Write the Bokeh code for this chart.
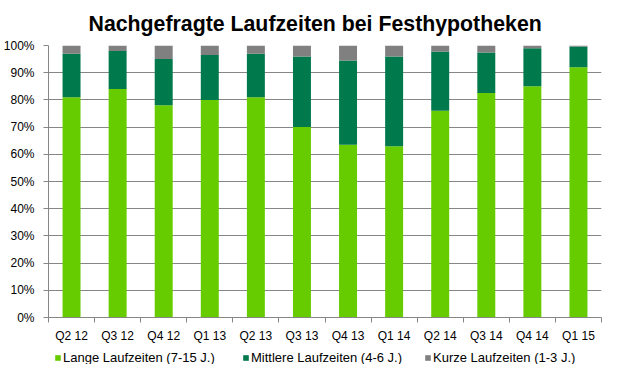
from bokeh.plotting import figure
from bokeh.layouts import column
from bokeh.models import ColumnDataSource, FixedTicker, PrintfTickFormatter, Range1d, Legend, LegendItem, Title
from bokeh.embed import file_html
from bokeh.resources import INLINE

categories = ["Q2 12", "Q3 12", "Q4 12", "Q1 13", "Q2 13", "Q3 13",
              "Q4 13", "Q1 14", "Q2 14", "Q3 14", "Q4 14", "Q1 15"]
lange = [81, 84, 78, 80, 81, 70, 63.5, 63, 76, 82.5, 85, 92]
mittlere = [16, 14, 17, 16.5, 16, 26, 31, 33, 21.8, 14.9, 14, 7.6]
kurze = [3, 2, 5, 3.5, 3, 4, 5.5, 4, 2.2, 2.6, 1, 0.4]
series_names = ["Lange Laufzeiten (7-15 J.)", "Mittlere Laufzeiten (4-6 J.)", "Kurze Laufzeiten (1-3 J.)"]
y_ticks = [0, 10, 20, 30, 40, 50, 60, 70, 80, 90, 100]

FONT = "Liberation Sans"
COLORS = ["#66CC00", "#00794D", "#808080"]

n = len(categories)
xs = [i + 0.5 for i in range(n)]
b1 = [0] * n
t1 = lange
t2 = [a + b for a, b in zip(lange, mittlere)]
t3 = [a + b for a, b in zip(t2, kurze)]

src = ColumnDataSource(dict(x=xs, b1=b1, t1=t1, t2=t2, t3=t3))

p = figure(width=614, height=345, output_backend="svg", toolbar_location=None,
           x_range=Range1d(0, n), y_range=Range1d(0, 100),
           min_border_left=40, min_border_right=13, min_border_top=44, min_border_bottom=26,
           title=None)
p.outline_line_color = None
p.background_fill_color = "white"
p.border_fill_color = "white"

title = Title(text="Nachgefragte Laufzeiten bei Festhypotheken", text_font=FONT,
              text_font_size="21.3px", text_font_style="bold", text_color="black",
              align="left", offset=40, standoff=19)
p.add_layout(title, "above")

w = 0.39
r1 = p.vbar(x="x", bottom="b1", top="t1", width=w, source=src, fill_color=COLORS[0], line_color=None)
r2 = p.vbar(x="x", bottom="t1", top="t2", width=w, source=src, fill_color=COLORS[1], line_color=None)
r3 = p.vbar(x="x", bottom="t2", top="t3", width=w, source=src, fill_color=COLORS[2], line_color=None)

# x axis: labels at centers, tick marks at boundaries (minor ticks)
p.xaxis.ticker = FixedTicker(ticks=xs, minor_ticks=list(range(n + 1)))
p.xaxis.major_label_overrides = {x: c for x, c in zip(xs, categories)}
p.xaxis.major_tick_out = 0
p.xaxis.major_tick_in = 0
p.xaxis.minor_tick_out = 5
p.xaxis.minor_tick_in = 0
p.xaxis.minor_tick_line_color = "#868686"
p.xaxis.axis_line_color = "#868686"
p.xaxis.major_label_text_font = FONT
p.xaxis.major_label_text_font_size = "12px"
p.xaxis.major_label_text_color = "black"
p.xaxis.major_label_standoff = 6

p.yaxis.ticker = FixedTicker(ticks=y_ticks)
p.yaxis.formatter = PrintfTickFormatter(format="%d%%")
p.yaxis.minor_tick_line_color = None
p.yaxis.major_tick_out = 5
p.yaxis.major_tick_in = 0
p.yaxis.major_tick_line_color = "#868686"
p.yaxis.axis_line_color = "#868686"
p.yaxis.major_label_text_font = FONT
p.yaxis.major_label_text_font_size = "12px"
p.yaxis.major_label_text_color = "black"
p.yaxis.major_label_standoff = 9

p.xgrid.grid_line_color = None
p.ygrid.grid_line_color = "#868686"
p.ygrid.ticker = FixedTicker(ticks=y_ticks)

# legend strip below the chart (its frame is aligned with the chart frame)
lf = figure(width=614, height=19, output_backend="svg", toolbar_location=None,
            x_range=Range1d(0, 1), y_range=Range1d(0, 1),
            min_border=0, min_border_left=0, min_border_right=0, min_border_top=0, min_border_bottom=0)
lf.axis.visible = False
lf.grid.visible = False
lf.outline_line_color = None
lf.border_fill_color = "white"
dummy = ColumnDataSource(dict(x=[-5], top=[-5]))
leg_x = [6, 194, 376]
for name, col, lx in zip(series_names, COLORS, leg_x):
    rr = lf.vbar(x="x", top="top", width=0.1, source=dummy, fill_color=col, line_color=None)
    lg = Legend(items=[LegendItem(label=name, renderers=[rr])], location=(lx, -1),
                orientation="horizontal")
    lg.glyph_width = 7
    lg.glyph_height = 7
    lg.label_text_font = FONT
    lg.label_text_font_size = "13px"
    lg.label_text_color = "black"
    lg.label_standoff = 2
    lg.padding = 0
    lg.margin = 0
    lg.spacing = 0
    lg.label_height = 12
    lg.border_line_color = None
    lg.background_fill_alpha = 0
    lf.add_layout(lg, "center")

layout = column(p, lf, spacing=0)
open("out.html", "w").write(file_html(layout, INLINE))
